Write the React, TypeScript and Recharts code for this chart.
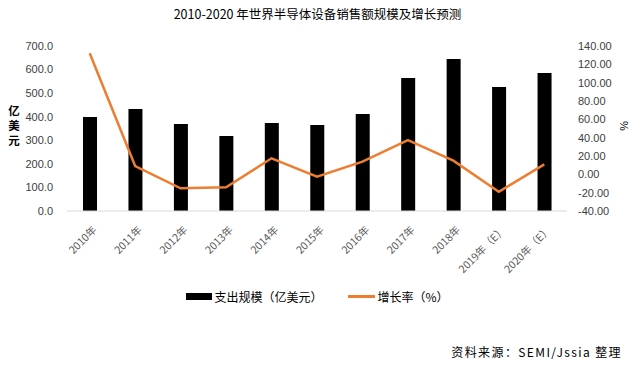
import React from "react";
import {
  ComposedChart,
  Bar,
  Line,
  XAxis,
  YAxis,
  Legend,
} from "recharts";

const years = [
  "2010年",
  "2011年",
  "2012年",
  "2013年",
  "2014年",
  "2015年",
  "2016年",
  "2017年",
  "2018年",
  "2019年（E）",
  "2020年（E）",
];
const spending = [399, 433, 369, 318, 373, 365, 411, 564, 645, 526, 585];
const growth = [132, 9, -15.3, -14.2, 17.5, -2.6, 13.8, 37.4, 14.9, -19, 10.9];
const leftTicks = [0, 100, 200, 300, 400, 500, 600, 700];
const rightTicks = [-40, -20, 0, 20, 40, 60, 80, 100, 120, 140];
const unitChars = ["亿", "美", "元"];

const data = years.map((year, i) => ({
  year,
  spending: spending[i],
  growth: growth[i],
}));

const ORANGE = "#ED7D31";
const TICK_COLOR = "#404040";
const CJK = '"Noto Sans CJK SC", "Liberation Sans", sans-serif';
const NUM = '"Liberation Sans", Arial, sans-serif';

function YearTick(props: any) {
  const { x, y, payload } = props;
  return (
    <g transform={`translate(${x + 5},${y + 9})`}>
      <text
        transform="rotate(-45)"
        textAnchor="end"
        dy="0.35em"
        fill="#595959"
        fontSize={10.5}
        fontFamily={CJK}
      >
        {payload.value}
      </text>
    </g>
  );
}

function LegendContent(props: any) {
  const { payload = [] } = props;
  // bar first, like the reference
  const items = [...payload].sort(
    (a: any, b: any) => (a.type === "line" ? 1 : 0) - (b.type === "line" ? 1 : 0)
  );
  return (
    <div
      style={{
        display: "flex",
        justifyContent: "center",
        gap: 26,
        fontFamily: CJK,
        fontSize: 12,
        color: "#000",
        height: 18,
      }}
    >
      {items.map((item: any) => (
        <div key={item.value} style={{ display: "flex", alignItems: "center" }}>
          {item.type === "line" ? (
            <span
              style={{
                display: "inline-block",
                width: 27,
                height: 3,
                background: ORANGE,
                marginRight: 2,
              }}
            />
          ) : (
            <span
              style={{
                display: "inline-block",
                width: 26,
                height: 7,
                background: "#000",
                marginRight: 2,
              }}
            />
          )}
          <span>{item.value}</span>
        </div>
      ))}
    </div>
  );
}

export default function App() {
  return (
    <div
      style={{
        position: "absolute",
        left: 0,
        top: 0,
        width: 635,
        height: 367,
        background: "#fff",
      }}
    >
      <div
        style={{
          position: "absolute",
          top: 5,
          left: 0,
          width: 635,
          textAlign: "center",
          fontFamily: CJK,
          fontSize: 12.5,
          lineHeight: "18px",
          color: "#000",
        }}
      >
        2010-2020 年世界半导体设备销售额规模及增长预测
      </div>
      {unitChars.map((ch, i) => (
        <div
          key={ch}
          style={{
            position: "absolute",
            left: 6,
            top: 103 + i * 15,
            width: 16,
            height: 15,
            fontFamily: CJK,
            fontSize: 11.5,
            fontWeight: "bold",
            lineHeight: "15px",
            textAlign: "center",
            color: "#000",
          }}
        >
          {ch}
        </div>
      ))}
      <div
        style={{
          position: "absolute",
          left: 619,
          top: 120,
          fontFamily: NUM,
          fontSize: 11,
          transform: "rotate(90deg)",
          color: "#000",
        }}
      >
        %
      </div>
      <ComposedChart
        width={635}
        height={367}
        data={data}
        margin={{ top: 46, right: 8, bottom: 68, left: 7 }}
        barSize={14}
      >
        <XAxis
          dataKey="year"
          interval={0}
          tick={<YearTick />}
          tickLine={false}
          axisLine={{ stroke: "#d9d9d9" }}
          height={70}
        />
        <YAxis
          yAxisId="left"
          domain={[0, 700]}
          ticks={leftTicks}
          interval={0}
          tickFormatter={(v: number) => v.toFixed(1)}
          tick={{ fill: TICK_COLOR, fontSize: 11, fontFamily: NUM }}
          axisLine={false}
          tickLine={false}
          tickSize={0}
          tickMargin={14}
          width={60}
        />
        <YAxis
          yAxisId="right"
          orientation="right"
          domain={[-40, 140]}
          ticks={rightTicks}
          interval={0}
          tickFormatter={(v: number) => v.toFixed(2)}
          tick={{ fill: TICK_COLOR, fontSize: 11, fontFamily: NUM, textAnchor: "start" }}
          axisLine={false}
          tickLine={false}
          tickSize={0}
          tickMargin={11}
          width={60}
        />
        <Legend
          content={<LegendContent />}
          wrapperStyle={{ position: "absolute", top: 287, left: 0, width: 635 }}
        />
        <Bar
          yAxisId="left"
          dataKey="spending"
          name="支出规模（亿美元）"
          fill="#000"
          legendType="rect"
          isAnimationActive={false}
        />
        <Line
          yAxisId="right"
          dataKey="growth"
          name="增长率（%）"
          stroke={ORANGE}
          strokeWidth={2.5}
          dot={false}
          legendType="line"
          isAnimationActive={false}
        />
      </ComposedChart>
      <div
        style={{
          position: "absolute",
          right: 13,
          top: 343,
          fontFamily: CJK,
          fontSize: 12,
          letterSpacing: 1.4,
          color: "#000",
        }}
      >
        资料来源：SEMI/Jssia 整理
      </div>
    </div>
  );
}
